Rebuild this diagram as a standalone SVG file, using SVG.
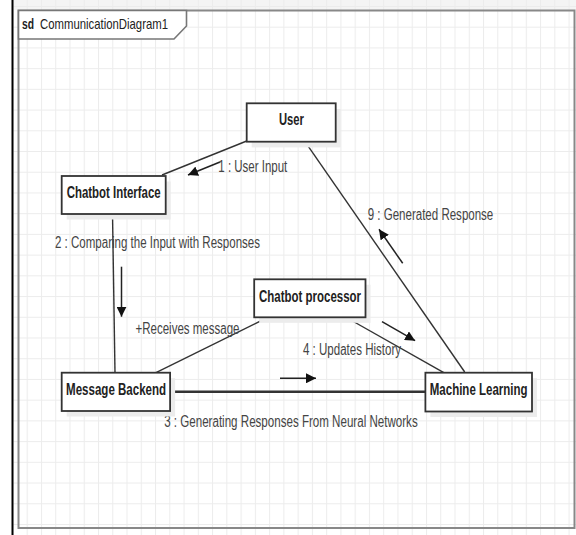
<svg xmlns="http://www.w3.org/2000/svg" width="576" height="535" viewBox="0 0 576 535">
<defs>
<pattern id="grid" patternUnits="userSpaceOnUse" x="12.44" y="5.98" width="14.26" height="20.72">
<path d="M0.5 0 V20.72 M0 0.5 H14.26" stroke="#ececec" stroke-width="1" fill="none"/>
</pattern>
<marker id="ah" viewBox="0 0 10 10" refX="10" refY="5" markerWidth="10" markerHeight="10" markerUnits="userSpaceOnUse" orient="auto">
<path d="M0 0 L10 5 L0 10 Z" fill="#111"/>
</marker>
<style>
.box{fill:#fff;stroke:#333;stroke-width:1.8}
.shadow{fill:#ececec}
.nt{font-family:"Liberation Sans Narrow","Liberation Sans",Arial,sans-serif;font-weight:bold;font-size:17px;fill:#222}
.lt{font-family:"Liberation Sans Narrow","Liberation Sans",Arial,sans-serif;font-size:16px;fill:#444}
.tt{font-family:"Liberation Sans Narrow","Liberation Sans",Arial,sans-serif;font-size:15px;fill:#222}
.conn{stroke:#333;stroke-width:1.4;fill:none}
.arr{stroke:#222;stroke-width:1.5;fill:none;marker-end:url(#ah)}
</style>
</defs>
<rect x="0" y="0" width="576" height="535" fill="#fff"/>
<rect x="12" y="0" width="564" height="10" fill="#f4f4f4"/>
<rect x="12" y="0" width="564" height="535" fill="url(#grid)"/>
<line x1="12.5" y1="0" x2="12.5" y2="535" stroke="#000" stroke-width="2"/>
<g id="frame">
<rect x="18.5" y="10.5" width="556" height="517.5" fill="none" stroke="#888" stroke-width="2"/>
<path d="M18.5 10.5 H186.5 V26 L174 39 H18.5 Z" fill="#fff" stroke="#777" stroke-width="1.6"/>
<text x="22" y="29" class="tt" font-weight="bold" textLength="12" lengthAdjust="spacingAndGlyphs">sd</text>
<text x="40" y="29" class="tt" textLength="128" lengthAdjust="spacingAndGlyphs">CommunicationDiagram1</text>
</g>
<g id="connectors">
<text x="55" y="248.3" class="lt" textLength="205" lengthAdjust="spacingAndGlyphs">2 : Comparing the Input with Responses</text>
<line class="conn" x1="246.7" y1="141" x2="162" y2="175"/>
<line class="conn" x1="305" y1="141.7" x2="464.7" y2="372" stroke-width="1"/>
<line class="conn" x1="112.5" y1="214" x2="115" y2="372.7"/>
<line class="conn" x1="156" y1="372.7" x2="266.5" y2="318"/>
<line class="conn" x1="347.2" y1="318" x2="443.8" y2="372.7"/>
<line x1="170" y1="391.7" x2="425.5" y2="391.7" stroke="#333" stroke-width="2.6"/>
<line class="arr" x1="220" y1="162" x2="188" y2="175"/>
<line class="arr" x1="402.7" y1="263.3" x2="379" y2="229.3"/>
<line class="arr" x1="121.5" y1="266.7" x2="121.5" y2="316.7"/>
<line class="arr" x1="382" y1="321.7" x2="415.1" y2="340.7"/>
<line class="arr" x1="280" y1="378.3" x2="316" y2="378.3"/>
<text x="218.3" y="171.7" class="lt" textLength="69" lengthAdjust="spacingAndGlyphs">1 : User Input</text>
<text x="367.7" y="220" class="lt" textLength="125.6" lengthAdjust="spacingAndGlyphs">9 : Generated Response</text>
<text x="135.5" y="333.5" class="lt" textLength="104" lengthAdjust="spacingAndGlyphs">+Receives message</text>
<text x="303" y="355" class="lt" textLength="98" lengthAdjust="spacingAndGlyphs">4 : Updates History</text>
<text x="164.2" y="426.7" class="lt" textLength="253.5" lengthAdjust="spacingAndGlyphs">3 : Generating Responses From Neural Networks</text>
</g>
<g id="user">
<rect class="shadow" x="251.7" y="109" width="89" height="38.4"/>
<rect class="box" x="246.7" y="103.3" width="89" height="38.4"/>
<text x="291.5" y="125" class="nt" text-anchor="middle" textLength="25" lengthAdjust="spacingAndGlyphs">User</text>
</g>
<g id="chatbot-interface">
<rect class="shadow" x="66.7" y="181.5" width="104" height="38"/>
<rect class="box" x="61.7" y="176" width="104" height="38"/>
<text x="66.7" y="198.3" class="nt" textLength="94" lengthAdjust="spacingAndGlyphs">Chatbot Interface</text>
</g>
<g id="chatbot-processor">
<rect class="shadow" x="259.2" y="284.8" width="111.3" height="38"/>
<rect class="box" x="254.2" y="279.3" width="111.3" height="38"/>
<text x="259" y="302.3" class="nt" textLength="102" lengthAdjust="spacingAndGlyphs">Chatbot processor</text>
</g>
<g id="message-backend">
<rect class="shadow" x="66.7" y="378.2" width="108.4" height="38.3"/>
<rect class="box" x="61.7" y="372.7" width="108.4" height="38.3"/>
<text x="66.1" y="395" class="nt" textLength="100" lengthAdjust="spacingAndGlyphs">Message Backend</text>
</g>
<g id="machine-learning">
<rect class="shadow" x="430.4" y="378.2" width="106.6" height="38.8"/>
<rect class="box" x="425.4" y="372.7" width="106.6" height="38.8"/>
<text x="429.8" y="395" class="nt" textLength="97.7" lengthAdjust="spacingAndGlyphs">Machine Learning</text>
</g>
</svg>
